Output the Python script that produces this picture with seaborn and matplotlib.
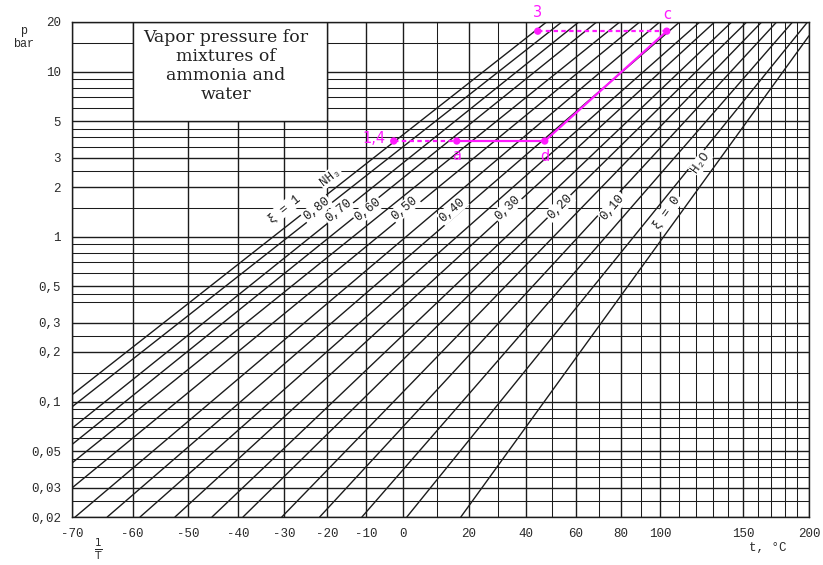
import matplotlib
matplotlib.use("Agg")
import matplotlib.pyplot as plt
import numpy as np
import pandas as pd
import seaborn as sns
from matplotlib.patches import Rectangle
from matplotlib.ticker import FixedLocator, NullFormatter

xi = [1.0, 0.9, 0.8, 0.7, 0.6, 0.55, 0.5, 0.45, 0.4, 0.35, 0.3, 0.25, 0.2, 0.15, 0.1, 0.05, 0.0]
t_lo = [-70, -70, -70, -70, -70, -70, -69.5, -64.3, -58.7, -52.4, -45.3, -39.0, -30.6, -21.8, -11.2, 1.1, 17.5]
p_lo = [0.11, 0.093, 0.069, 0.055, 0.0425, 0.030, 0.02, 0.02, 0.02, 0.02, 0.02, 0.02, 0.02, 0.02, 0.02, 0.02, 0.02]
t_hi = [48.0, 54.1, 61.2, 69.0, 79.6, 89.3, 99.6, 110.5, 122.1, 131.2, 142.1, 152.2, 162.8, 173.9, 186.4, 198.8, 200.0]
p_hi = [20, 20, 20, 20, 20, 20, 20, 20, 20, 20, 20, 20, 20, 20, 20, 20, 16.5]

# line labels
label_text = ["ξ = 1", "NH₃", "0,80", "0,70", "0,60", "0,50", "0,40", "0,30", "0,20", "0,10", "ξ = 0", "H₂O"]
label_xi = [1.0, 1.0, 0.8, 0.7, 0.6, 0.5, 0.4, 0.3, 0.2, 0.1, 0.0, 0.0]
label_t = [-30.1, -19.3, -22.5, -17.1, -9.6, 0.5, 14.9, 33.5, 53.3, 76.3, 103.4, 122.7]
label_p = [1.47, 2.30, 1.47, 1.43, 1.45, 1.49, 1.45, 1.49, 1.51, 1.51, 1.41, 2.80]

# process points drawn in magenta
pt_name = ["1,4", "a", "d", "3", "c"]
pt_t = [-2.6, 16.2, 47.3, 44.6, 103.4]
pt_p = [3.8, 3.8, 3.8, 17.6, 17.6]

# axis ticks
x_ticks = [-70, -60, -50, -40, -30, -20, -10, 0, 20, 40, 60, 80, 100, 150, 200]
x_tick_labels = ["-70", "-60", "-50", "-40", "-30", "-20", "-10", "0", "20", "40", "60", "80", "100", "150", "200"]
y_ticks = [0.02, 0.03, 0.05, 0.1, 0.2, 0.3, 0.5, 1, 2, 3, 5, 10, 20]
y_tick_labels = ["0,02", "0,03", "0,05", "0,1", "0,2", "0,3", "0,5", "1", "2", "3", "5", "10", "20"]
y_grid = [0.025, 0.035, 0.04, 0.045, 0.06, 0.07, 0.08, 0.09, 0.15, 0.25, 0.4, 0.45,
          0.6, 0.7, 0.8, 0.9, 1.5, 2.5, 3.5, 4, 4.5, 6, 7, 8, 9, 15]

sns.set_theme(style="white")
plt.rcParams["font.family"] = ["Liberation Mono", "DejaVu Sans Mono"]
MONO = ["Liberation Mono", "DejaVu Sans Mono"]
INK = "#1c1c1c"
MAGENTA = "#ff1aff"


def forward(t):
    t = np.asarray(t, dtype=float)
    with np.errstate(divide="ignore", invalid="ignore"):
        return -1000.0 / (t + 273.15)


def inverse(u):
    u = np.asarray(u, dtype=float)
    with np.errstate(divide="ignore", invalid="ignore"):
        return -1000.0 / u - 273.15


fig = plt.figure(figsize=(8.23, 5.65), dpi=100)
ax = fig.add_axes([72 / 823, 1 - 517 / 565, 737 / 823, 495 / 565])
ax.set_xscale("function", functions=(forward, inverse))
ax.set_yscale("log")
ax.set_axisbelow(True)

lines = pd.DataFrame({
    "xi": xi + xi,
    "t": t_lo + t_hi,
    "p": p_lo + p_hi,
})
sns.lineplot(data=lines, x="t", y="p", units="xi", estimator=None, sort=False,
             color=INK, linewidth=1.0, legend=False, ax=ax, zorder=3)

ax.set_xlim(-70, 200)
ax.set_ylim(0.02, 20)
ax.set_xlabel("")
ax.set_ylabel("")

ax.xaxis.set_major_locator(FixedLocator(x_ticks))
ax.xaxis.set_minor_locator(FixedLocator(np.arange(-70, 201, 10)))
ax.xaxis.set_minor_formatter(NullFormatter())
ax.set_xticklabels(x_tick_labels)
ax.yaxis.set_major_locator(FixedLocator(y_ticks))
ax.yaxis.set_minor_locator(FixedLocator(y_grid))
ax.yaxis.set_minor_formatter(NullFormatter())
ax.set_yticklabels(y_tick_labels)

ax.grid(True, which="major", color=INK, linewidth=1.0)
ax.grid(True, which="minor", color=INK, linewidth=0.75)
ax.tick_params(which="both", direction="out", length=4, width=0.8, color=INK,
               labelsize=9, labelcolor="#2a2a2a", pad=4)
for spine in ax.spines.values():
    spine.set_color(INK)
    spine.set_linewidth(1.0)

# title box over the grid
ax.add_patch(Rectangle((-60, 5), 40, 15, facecolor="white", edgecolor=INK, linewidth=1.0, zorder=2))
ax.text(0.209, 0.911, "Vapor pressure for\nmixtures of\nammonia and\nwater", transform=ax.transAxes,
        ha="center", va="center", multialignment="center", fontsize=12.5,
        family=["DejaVu Serif"], color="#222222", linespacing=1.15, zorder=4)

# rotated line labels
for text, k_xi, lt, lp in zip(label_text, label_xi, label_t, label_p):
    k = xi.index(k_xi)
    a = ax.transData.transform((t_lo[k], p_lo[k]))
    b = ax.transData.transform((t_hi[k], p_hi[k]))
    angle = np.degrees(np.arctan2(b[1] - a[1], b[0] - a[0]))
    ax.text(lt, lp, text, rotation=angle, rotation_mode="anchor", ha="center", va="center",
            fontsize=9, family=MONO, color=INK, zorder=4,
            bbox=dict(facecolor="white", edgecolor="none", pad=0.8))

# process path
pts = pd.DataFrame({"name": pt_name, "t": pt_t, "p": pt_p}).set_index("name")
segments = [("1,4", "a", (0, (2, 1.5))), ("a", "d", "-"), ("d", "c", "-"), ("3", "c", (0, (2, 1.5)))]
for s, e, ls in segments:
    ax.plot([pts.loc[s, "t"], pts.loc[e, "t"]], [pts.loc[s, "p"], pts.loc[e, "p"]],
            color=MAGENTA, linewidth=1.6, linestyle=ls, zorder=5)
sns.scatterplot(data=pts.reset_index(), x="t", y="p", color=MAGENTA, s=28, edgecolor="none",
                zorder=6, ax=ax, legend=False)
ax.set_xlabel("")
ax.set_ylabel("")
offsets = {"1,4": (-8, 3, "right"), "a": (0, -14, "center"), "d": (0, -15, "center"),
           "3": (0, 19, "center"), "c": (1, 17, "center")}
for name in pt_name:
    dx, dy, ha = offsets[name]
    ax.annotate(name, (pts.loc[name, "t"], pts.loc[name, "p"]), xytext=(dx, dy),
                textcoords="offset pixels", ha=ha, va="center", color=MAGENTA,
                fontsize=10.5, family=["DejaVu Sans"], zorder=7)

# axis captions
fig.text(24 / 823, 1 - 31 / 565, "p", ha="center", va="center", fontsize=8.5, color="#2a2a2a")
fig.text(24 / 823, 1 - 44 / 565, "bar", ha="center", va="center", fontsize=8.5, color="#2a2a2a")
fig.text(98 / 823, 1 - 549 / 565, r"$\frac{1}{\mathrm{T}}$", ha="center", va="center",
         fontsize=11, color="#2a2a2a")
fig.text(768 / 823, 1 - 548 / 565, "t, °C", ha="center", va="center", fontsize=9, color="#2a2a2a")

fig.savefig("out.png", dpi=100, facecolor="white")
plt.close(fig)
